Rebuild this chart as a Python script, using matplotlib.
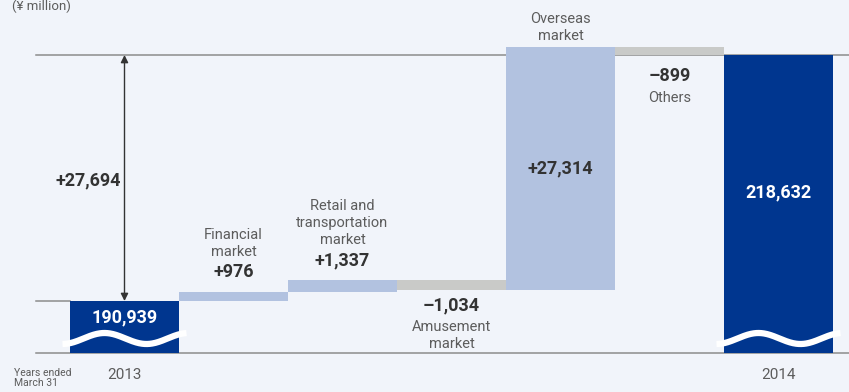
import numpy as np
import matplotlib
matplotlib.use("Agg")
import matplotlib.pyplot as plt

plt.rcParams['font.family'] = ['Roboto', 'DejaVu Sans']

# net sales bridge, ¥ million
start_label = "2013"
end_label = "2014"
start_value = 190939
end_value = 218632
total_change = "+27,694"

segments = ["Financial\nmarket", "Retail and\ntransportation\nmarket",
            "Amusement\nmarket", "Overseas\nmarket", "Others"]
changes = [976, 1337, -1034, 27314, -899]
change_labels = ["+976", "+1,337", "\u20131,034", "+27,314", "\u2013899"]

BG = "#F1F4FA"
DARK = "#00368F"
UP = "#B2C2E0"
DOWN = "#C9CAC8"
TXT = "#333333"
LBL = "#5C5C5C"
LINE = "#8C8C8C"

W, H = 849, 392
fig = plt.figure(figsize=(W / 100, H / 100), dpi=100, facecolor=BG)
ax = fig.add_axes([0, 0, 1, 1])
ax.set_facecolor(BG)
ax.axis("off")

# vertical scale: value per pixel, level of 2013 at px 301, 2014 at px 55
s = (end_value - start_value) / (301 - 55)
ax.set_ylim(start_value - (H - 301) * s, start_value + 301 * s)
ax.set_xlim(-124.5 / 109, (W - 124.5) / 109)
base = start_value - 52.5 * s  # broken-axis floor
x_left = (36 - 124.5) / 109

n = len(segments)
xs = np.arange(n + 2)

# baseline and reference lines
ax.plot([x_left, xs[-1] + 2], [base, base], color=LINE, lw=1.1, zorder=1)
ax.plot([x_left, xs[-1] + 2], [end_value, end_value], color=LINE, lw=1.1, zorder=1)
ax.plot([x_left, -0.5], [start_value, start_value], color=LINE, lw=1.1, zorder=1)

# total bars
for x, v in [(xs[0], start_value), (xs[-1], end_value)]:
    ax.bar(x, v - base, bottom=base, width=1.0, color=DARK, zorder=2)
    # break mark
    wx = np.linspace(-62, 62, 200)
    wy = base + 15 * s - 5.5 * s * np.cos(2 * np.pi * (wx - 22) / 84)
    ax.plot(x + wx / 109, wy, color="white", lw=4.5, solid_capstyle="butt", zorder=3)

# change bars
level = start_value
tops, bottoms = [], []
for i, c in enumerate(changes):
    lo, hi = min(level, level + c), max(level, level + c)
    ax.bar(xs[i + 1], hi - lo, bottom=lo, width=1.0,
           color=UP if c > 0 else DOWN, zorder=2)
    tops.append(hi)
    bottoms.append(lo)
    level += c

bold = dict(fontsize=13, fontweight="bold", color=TXT, ha="center", va="center")
reg = dict(fontsize=10.5, color=LBL, ha="center", linespacing=1.3)

def label(x, y, dy, text, **kw):
    ax.annotate(text, (x, y), xytext=(0, dy), textcoords="offset pixels", **kw)

# totals
label(xs[0], start_value, -16, f"{start_value:,}", **{**bold, "color": "white"})
label(xs[-1], end_value, -137, f"{end_value:,}", **{**bold, "color": "white"})

# change labels
for i, c in enumerate(changes):
    x = xs[i + 1]
    if i == 3:
        label(x, (tops[i] + bottoms[i]) / 2, 0, change_labels[i], **bold)
        label(x, tops[i], 4, segments[i], va="bottom", **reg)
    elif c > 0:
        label(x, tops[i], 20, change_labels[i], **bold)
        label(x, tops[i], 33, segments[i], va="bottom", **reg)
    else:
        label(x, bottoms[i], -16 if i == 2 else -21, change_labels[i], **bold)
        label(x, bottoms[i], -30 if i == 2 else -36, segments[i], va="top", **reg)

# overall change arrow
ax.annotate("", xy=(xs[0], end_value), xytext=(xs[0], start_value),
            arrowprops=dict(arrowstyle="<|-|>", color=TXT, lw=1.0,
                            mutation_scale=11, shrinkA=0, shrinkB=0), zorder=4)
ax.text((88 - 124.5) / 109, (start_value + end_value) / 2 - 2 * s,
        total_change, **bold)

# year labels
label(xs[0], base, -21.5, start_label, fontsize=11, color=LBL, ha="center", va="center")
label(xs[-1], base, -21.5, end_label, fontsize=11, color=LBL, ha="center", va="center")
ax.text((14 - 124.5) / 109, base - 15 * s, "Years ended\nMarch 31", fontsize=7.5,
        color=LBL, ha="left", va="top", linespacing=1.0)
ax.text((12 - 124.5) / 109, start_value + 301 * s, "(\u00a5 million)", fontsize=9.5,
        color=LBL, ha="left", va="top")

fig.savefig("out.png", dpi=100, facecolor=BG)
